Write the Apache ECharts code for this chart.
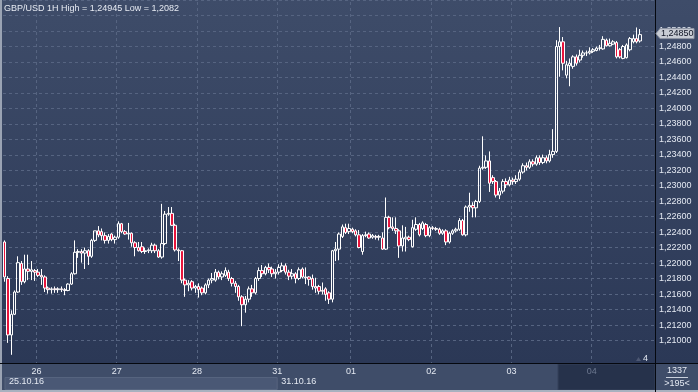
<!DOCTYPE html>
<html><head><meta charset="utf-8">
<script src="https://cdn.jsdelivr.net/npm/echarts/dist/echarts.min.js"></script>
<style>html,body{margin:0;padding:0;background:#2c3955;overflow:hidden}#c{width:698px;height:392px}</style>
</head><body><div id="c"></div>
<script>
// ---- data ----
const titleText = 'GBP/USD 1H High = 1,24945 Low = 1,2082';
const dayNames = ['25','26','27','28','31','01','02','03','04'];
const dayBars  = [10, 24, 24, 24, 22, 24, 24, 24, 19];
const weekLabels = ['25.10.16', '31.10.16'];
const weekStartCats = ['25-0', '31-0'];
const lastPrice = 1.2485;
const barCountText = '1337';
const visibleText = '>195<';
const shiftText = '4';
const yTickMin = 1.21, yTickMax = 1.254, yTickStep = 0.002;

const opens = [
1.2224,1.2178,1.2107,1.2133,1.2161,1.2197,1.2174,1.2190,1.2187,1.2188,
1.2186,1.2182,1.2180,1.2166,1.2164,1.2165,1.2164,1.2165,1.2164,1.2163,
1.2171,1.2184,1.2211,1.2212,1.2210,1.2213,1.2206,1.2226,1.2238,1.2237,
1.2232,1.2226,1.2234,1.2227,1.2230,1.2247,1.2237,1.2234,1.2235,1.2223,
1.2217,1.2218,1.2212,1.2213,1.2213,1.2220,1.2213,1.2205,1.2222,1.2259,
1.2260,1.2245,1.2214,1.2213,1.2176,1.2170,1.2174,1.2166,1.2168,1.2166,
1.2160,1.2170,1.2176,1.2176,1.2186,1.2180,1.2182,1.2186,1.2178,1.2172,
1.2168,1.2155,1.2145,1.2152,1.2165,1.2160,1.2178,1.2188,1.2184,1.2192,
1.2190,1.2184,1.2186,1.2188,1.2194,1.2186,1.2181,1.2184,1.2178,1.2190,
1.2180,1.2180,1.2178,1.2168,1.2168,1.2163,1.2165,1.2160,1.2152,1.2213,
1.2215,1.2231,1.2242,1.2237,1.2240,1.2238,1.2233,1.2212,1.2232,1.2234,
1.2230,1.2231,1.2230,1.2229,1.2215,1.2255,1.2243,1.2241,1.2238,1.2219,
1.2228,1.2230,1.2218,1.2240,1.2246,1.2241,1.2246,1.2232,1.2242,1.2241,
1.2240,1.2235,1.2238,1.2224,1.2235,1.2238,1.2240,1.2251,1.2233,1.2268,
1.2270,1.2267,1.2275,1.2317,1.2318,1.2326,1.2305,1.2300,1.2283,1.2288,
1.2300,1.2296,1.2302,1.2300,1.2303,1.2312,1.2320,1.2318,1.2325,1.2322,
1.2330,1.2324,1.2330,1.2326,1.2334,1.2338,1.2470,1.2476,1.2434,1.2446,
1.2445,1.2457,1.2453,1.2459,1.2462,1.2462,1.2464,1.2465,1.2468,1.2467,
1.2478,1.2471,1.2473,1.2475,1.2466,1.2455,1.2456,1.2466,1.2476,1.2480,
1.2477];
const closes = [
1.2180,1.2107,1.2133,1.2161,1.2198,1.2174,1.2190,1.2187,1.2189,1.2186,
1.2182,1.2180,1.2166,1.2164,1.2165,1.2164,1.2165,1.2164,1.2163,1.2171,
1.2184,1.2211,1.2212,1.2210,1.2213,1.2206,1.2226,1.2238,1.2233,1.2232,
1.2226,1.2231,1.2227,1.2230,1.2247,1.2237,1.2234,1.2235,1.2223,1.2217,
1.2213,1.2212,1.2213,1.2214,1.2220,1.2213,1.2205,1.2222,1.2259,1.2260,
1.2245,1.2214,1.2213,1.2176,1.2170,1.2172,1.2166,1.2168,1.2164,1.2160,
1.2170,1.2176,1.2178,1.2186,1.2180,1.2184,1.2188,1.2178,1.2172,1.2168,
1.2155,1.2145,1.2152,1.2165,1.2160,1.2178,1.2188,1.2184,1.2192,1.2189,
1.2184,1.2186,1.2192,1.2194,1.2186,1.2181,1.2184,1.2178,1.2189,1.2180,
1.2179,1.2177,1.2168,1.2166,1.2162,1.2162,1.2158,1.2152,1.2213,1.2215,
1.2234,1.2243,1.2236,1.2241,1.2237,1.2233,1.2217,1.2232,1.2233,1.2229,
1.2232,1.2230,1.2231,1.2215,1.2255,1.2242,1.2241,1.2238,1.2219,1.2229,
1.2230,1.2227,1.2242,1.2246,1.2233,1.2248,1.2232,1.2242,1.2241,1.2240,
1.2235,1.2238,1.2224,1.2235,1.2238,1.2240,1.2251,1.2233,1.2268,1.2270,
1.2267,1.2275,1.2317,1.2318,1.2326,1.2298,1.2300,1.2283,1.2288,1.2300,
1.2296,1.2302,1.2300,1.2303,1.2312,1.2320,1.2318,1.2325,1.2322,1.2330,
1.2324,1.2330,1.2326,1.2334,1.2338,1.2470,1.2476,1.2449,1.2447,1.2449,
1.2457,1.2449,1.2459,1.2462,1.2462,1.2464,1.2466,1.2468,1.2468,1.2479,
1.2471,1.2474,1.2476,1.2457,1.2457,1.2470,1.2472,1.2480,1.2480,1.2476,
1.2485];
const lows = [
1.2174,1.2097,1.2082,1.2132,1.2160,1.2170,1.2172,1.2176,1.2176,1.2175,
1.2180,1.2170,1.2161,1.2159,1.2159,1.2160,1.2160,1.2161,1.2157,1.2162,
1.2170,1.2183,1.2204,1.2198,1.2190,1.2195,1.2204,1.2224,1.2230,1.2226,
1.2222,1.2222,1.2225,1.2222,1.2228,1.2235,1.2233,1.2227,1.2218,1.2206,
1.2212,1.2210,1.2209,1.2210,1.2210,1.2210,1.2204,1.2203,1.2220,1.2257,
1.2244,1.2212,1.2200,1.2172,1.2155,1.2162,1.2163,1.2160,1.2154,1.2157,
1.2158,1.2166,1.2172,1.2174,1.2177,1.2176,1.2180,1.2175,1.2168,1.2160,
1.2150,1.2118,1.2135,1.2148,1.2155,1.2158,1.2175,1.2180,1.2182,1.2185,
1.2180,1.2178,1.2183,1.2186,1.2183,1.2176,1.2177,1.2172,1.2176,1.2178,
1.2171,1.2169,1.2164,1.2160,1.2158,1.2158,1.2150,1.2146,1.2148,1.2200,
1.2201,1.2229,1.2234,1.2234,1.2235,1.2231,1.2216,1.2208,1.2230,1.2228,
1.2228,1.2227,1.2226,1.2214,1.2214,1.2240,1.2238,1.2234,1.2204,1.2212,
1.2212,1.2225,1.2217,1.2238,1.2231,1.2239,1.2230,1.2230,1.2239,1.2238,
1.2233,1.2233,1.2220,1.2222,1.2233,1.2236,1.2238,1.2232,1.2231,1.2262,
1.2255,1.2255,1.2273,1.2315,1.2316,1.2287,1.2297,1.2280,1.2278,1.2285,
1.2292,1.2294,1.2296,1.2297,1.2301,1.2310,1.2314,1.2316,1.2319,1.2320,
1.2321,1.2322,1.2323,1.2324,1.2330,1.2336,1.2432,1.2440,1.2430,1.2420,
1.2442,1.2446,1.2450,1.2456,1.2458,1.2460,1.2462,1.2464,1.2465,1.2466,
1.2470,1.2470,1.2472,1.2455,1.2455,1.2454,1.2455,1.2464,1.2474,1.2474,
1.2475];
const highs = [
1.2226,1.2181,1.2138,1.2163,1.2206,1.2200,1.2208,1.2208,1.2200,1.2190,
1.2190,1.2190,1.2182,1.2168,1.2167,1.2168,1.2167,1.2168,1.2166,1.2172,
1.2186,1.2226,1.2215,1.2215,1.2217,1.2215,1.2228,1.2238,1.2244,1.2241,
1.2236,1.2234,1.2235,1.2232,1.2250,1.2248,1.2239,1.2248,1.2236,1.2225,
1.2224,1.2224,1.2217,1.2216,1.2223,1.2222,1.2215,1.2272,1.2263,1.2268,
1.2268,1.2247,1.2216,1.2214,1.2178,1.2176,1.2176,1.2170,1.2172,1.2168,
1.2172,1.2178,1.2185,1.2190,1.2188,1.2187,1.2192,1.2189,1.2180,1.2175,
1.2170,1.2157,1.2156,1.2168,1.2170,1.2180,1.2192,1.2195,1.2194,1.2197,
1.2193,1.2190,1.2196,1.2198,1.2197,1.2189,1.2190,1.2186,1.2192,1.2192,
1.2192,1.2181,1.2183,1.2179,1.2170,1.2173,1.2167,1.2162,1.2214,1.2224,
1.2236,1.2246,1.2247,1.2247,1.2242,1.2240,1.2239,1.2234,1.2237,1.2236,
1.2234,1.2233,1.2233,1.2236,1.2280,1.2257,1.2255,1.2255,1.2240,1.2245,
1.2243,1.2232,1.2252,1.2255,1.2248,1.2250,1.2248,1.2244,1.2244,1.2243,
1.2242,1.2240,1.2240,1.2237,1.2240,1.2242,1.2254,1.2253,1.2270,1.2286,
1.2274,1.2277,1.2320,1.2357,1.2333,1.2338,1.2308,1.2302,1.2292,1.2303,
1.2304,1.2306,1.2305,1.2308,1.2315,1.2323,1.2324,1.2328,1.2328,1.2333,
1.2333,1.2334,1.2333,1.2340,1.2366,1.2478,1.24945,1.2482,1.2452,1.2455,
1.2459,1.2460,1.2466,1.2465,1.2465,1.2469,1.2468,1.2470,1.2472,1.2483,
1.2480,1.2480,1.2478,1.2477,1.2468,1.2472,1.2474,1.2482,1.2485,1.2494,
1.2492];

// ---- build ----
const cats = [];
dayNames.forEach((d, i) => { for (let k = 0; k < dayBars[i]; k++) cats.push(d + '-' + k); });
const ohlc = opens.map((o, i) => [o, closes[i], lows[i], highs[i]]);
const isDayStart = (idx, v) => String(v).endsWith('-0') && String(v) !== dayNames[0] + '-0';
const fmtPrice = v => v.toFixed(5).replace('.', ',');

// plot pixel geometry
const W = 698, H = 392;
const plotL = 3, plotR = 655, plotT = 2, plotB = 363;
const y125 = 22.7, y121 = 340.5;            // pixel rows of 1,25000 and 1,21000
const pxPer = (y121 - y125) / (1.25 - 1.21);
const dataMax = 1.25 + (y125 - plotT) / pxPer;
const dataMin = 1.25 - (plotB - y125) / pxPer;
const tickTopPx = y125 - (yTickMax - 1.25) * pxPer;

const FONT = 'Liberation Sans';
const LBL = '#e4e9f2';
const GRIDC = '#566481';

const chart = echarts.init(document.getElementById('c'), null, {renderer: 'canvas'});
chart.setOption({
  animation: false,
  backgroundColor: '#33405c',
  grid: [
    {left: plotL, right: W - plotR, top: plotT, bottom: H - plotB, show: false},
    {left: plotL, right: W - plotR, top: tickTopPx, bottom: H - y121, show: false}
  ],
  xAxis: [
    {type: 'category', gridIndex: 0, data: cats, boundaryGap: true,
     axisLine: {show: false}, axisTick: {show: false},
     axisLabel: {interval: isDayStart, formatter: v => v.split('-')[0],
       color: v => (v.split('-')[0] === '04' ? '#6d7990' : LBL),
       fontSize: 9, fontFamily: FONT, margin: 4, padding: [0, 3, 0, 0]},
     splitLine: {show: true, interval: isDayStart, lineStyle: {color: GRIDC, type: [3, 3], width: 1}}},
    {type: 'value', gridIndex: 1, min: 0, max: 1, show: false}
  ],
  yAxis: [
    {type: 'value', gridIndex: 0, min: dataMin, max: dataMax, show: false, splitLine: {show: false}},
    {type: 'value', gridIndex: 1, position: 'right', min: yTickMin, max: yTickMax, interval: yTickStep,
     axisLine: {show: false}, axisTick: {show: false},
     splitLine: {show: true, lineStyle: {color: GRIDC, type: [3, 3], width: 1}},
     axisLabel: {margin: 4, color: LBL, fontSize: 9, fontFamily: FONT,
       formatter: v => (v > 1.2505 ? '' : fmtPrice(v))}}
  ],
  series: [{
    type: 'candlestick', xAxisIndex: 0, yAxisIndex: 0, data: ohlc, barWidth: 3, silent: true,
    itemStyle: {color: 'rgba(0,0,0,0)', color0: '#e8143c', borderColor: '#ffffff', borderColor0: '#ffffff', borderWidth: 1}
  }]
});

// decorations positioned through the axes
const xOf = c => chart.convertToPixel({xAxisIndex: 0}, c);
const bw = (plotR - plotL) / cats.length;
const py = chart.convertToPixel({yAxisIndex: 0}, lastPrice);
const wk = weekStartCats.map(c => xOf(c) - bw / 2);

const els = [
  {type: 'rect', z: -10, shape: {x: 0, y: 0, width: W, height: plotB},
   style: {fill: new echarts.graphic.LinearGradient(0, 0, 0, 1, [{offset: 0, color: '#3e4c69'}, {offset: 1, color: '#2b3856'}])}},
  {type: 'rect', z: -9, shape: {x: 0, y: plotB, width: W, height: H - plotB}, style: {fill: '#3f4d69'}},
  {type: 'rect', z: -8, shape: {x: wk[0] + 2, y: 377.5, width: wk[1] - wk[0] - 2, height: 12}, style: {fill: '#4a5875', stroke: '#56647f', lineWidth: 1}},
  {type: 'rect', z: -8, shape: {x: 558, y: 364, width: plotR - 558, height: 26}, style: {fill: '#26324b', stroke: '#34415b', lineWidth: 1}},
  {type: 'rect', z: 50, shape: {x: 0, y: 0, width: 2, height: H}, style: {fill: '#9aa3b3'}},
  {type: 'rect', z: 50, shape: {x: 0, y: 390, width: W, height: 2}, style: {fill: '#a9b1bf'}},
  {type: 'line', z: 50, shape: {x1: plotR + 0.5, y1: 0, x2: plotR + 0.5, y2: H}, style: {stroke: '#05080f', lineWidth: 1}},
  {type: 'line', z: 50, shape: {x1: 0, y1: plotB + 0.5, x2: W, y2: plotB + 0.5}, style: {stroke: '#05080f', lineWidth: 1}},
  {type: 'text', z: 60, x: 4, y: 8.5, style: {text: titleText, fill: '#e6eaf2', font: '9px "Liberation Sans"', verticalAlign: 'middle'}},
  {type: 'text', z: 60, x: wk[0] + 6, y: 382, style: {text: weekLabels[0], fill: LBL, font: '9px "Liberation Sans"', verticalAlign: 'middle'}},
  {type: 'text', z: 60, x: wk[1] + 4, y: 382, style: {text: weekLabels[1], fill: LBL, font: '9px "Liberation Sans"', verticalAlign: 'middle'}},
  {type: 'text', z: 60, x: 677, y: 370.5, style: {text: barCountText, fill: LBL, font: '9px "Liberation Sans"', align: 'center', verticalAlign: 'middle'}},
  {type: 'line', z: 60, shape: {x1: 666, y1: 377.5, x2: 688, y2: 377.5}, style: {stroke: '#c9d0dc', lineWidth: 1}},
  {type: 'text', z: 60, x: 677, y: 383.5, style: {text: visibleText, fill: LBL, font: '9px "Liberation Sans"', align: 'center', verticalAlign: 'middle'}},
  {type: 'polygon', z: 40, shape: {points: [[636, 361], [638.5, 357], [641, 361]]}, style: {fill: '#4d5873'}},
  {type: 'text', z: 60, x: 645.5, y: 358.5, style: {text: shiftText, fill: LBL, font: '9px "Liberation Sans"', align: 'center', verticalAlign: 'middle'}},
  {type: 'polygon', z: 70, shape: {points: [[plotR + 1, py - 1], [plotR + 5, py - 6], [694, py - 6], [694, py + 4], [plotR + 5, py + 4]]},
   style: {fill: '#c8ccd4', stroke: '#8f96a4', lineWidth: 1}},
  {type: 'text', z: 71, x: 661, y: py - 1, style: {text: fmtPrice(lastPrice), fill: '#0f1424', font: '9px "Liberation Sans"', verticalAlign: 'middle'}}
];
chart.setOption({graphic: {elements: els}});
</script></body></html>
